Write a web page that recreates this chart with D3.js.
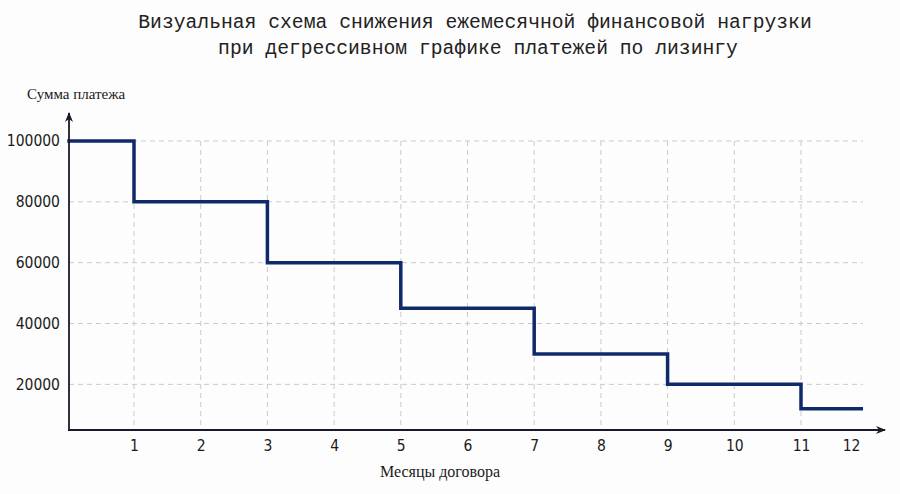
<!DOCTYPE html>
<html><head><meta charset="utf-8">
<script src="https://cdn.jsdelivr.net/npm/d3@7"></script>
<style>
body{margin:0;background:#fdfdfd;}
svg{display:block;}
</style></head>
<body>
<svg id="c" width="900" height="494"></svg>
<script>
const titleLines = ["Визуальная схема снижения ежемесячной финансовой нагрузки", "при дегрессивном графике платежей по лизингу"];
const yLabel = "Сумма платежа";
const xLabel = "Месяцы договора";
const stepStarts = [0, 1, 3, 5, 7, 9, 11];
const stepEnds = [1, 3, 5, 7, 9, 11, 11.93];
const payments = [100000, 80000, 60000, 45000, 30000, 20000, 12000];
const xTickLabels = ["1","2","3","4","5","6","7","8","9","10","11","12"];
const xTickPositions = [1,2,3,4,5,6,7,8,9,10,11,11.75];
const xGridMonths = [1,2,3,4,5,6,7,8,9,10,11];
const yTicks = [20000, 40000, 60000, 80000, 100000];

const svg = d3.select("#c");
const x = d3.scaleLinear().domain([0, 12]).range([67.3, 867.7]);
const y = d3.scaleLinear().domain([5000, 100000]).range([430, 141]);
const xEnd = x(11.93);

// grid
const g = svg.append("g");
g.selectAll("line.v").data(xGridMonths).enter().append("line")
  .attr("x1", d=>x(d)).attr("x2", d=>x(d)).attr("y1", y(100000)).attr("y2", 430)
  .attr("stroke", "#cacaca").attr("stroke-width", 1).attr("stroke-dasharray", "5,4");
g.selectAll("line.h").data(yTicks).enter().append("line")
  .attr("x1", 69).attr("x2", xEnd).attr("y1", d=>y(d)).attr("y2", d=>y(d))
  .attr("stroke", "#cacaca").attr("stroke-width", 1).attr("stroke-dasharray", "5,4");

// step line
const pts = [];
payments.forEach((p,i)=>{ pts.push([stepStarts[i], p]); pts.push([stepEnds[i], p]); });
const line = d3.line().x(d=>x(d[0])).y(d=>y(d[1]));
svg.append("path").datum(pts).attr("d", line).attr("fill","none")
  .attr("stroke","#0f2a6b").attr("stroke-width",3.5).attr("stroke-linejoin","miter");

// axes
const defs = svg.append("defs");
defs.append("marker").attr("id","arr").attr("viewBox","0 0 10 10").attr("refX",9).attr("refY",5)
  .attr("markerWidth",10).attr("markerHeight",10).attr("markerUnits","userSpaceOnUse").attr("orient","auto")
  .append("path").attr("d","M0,1 L10,5 L0,9 L3,5 Z").attr("fill","#1a1a2a");
svg.append("line").attr("x1",68).attr("y1",430).attr("x2",885).attr("y2",430)
  .attr("stroke","#1a1a2a").attr("stroke-width",1.8).attr("marker-end","url(#arr)");
svg.append("line").attr("x1",69).attr("y1",430).attr("x2",69).attr("y2",113)
  .attr("stroke","#1a1a2a").attr("stroke-width",1.8).attr("marker-end","url(#arr)");

const tickFont = "'DejaVu Sans Condensed', 'DejaVu Sans', sans-serif";
const xAxis = d3.axisBottom(x).tickValues(xTickPositions).tickSize(0).tickPadding(10)
  .tickFormat((d,i)=>xTickLabels[i]);
const xa = svg.append("g").attr("transform","translate(0,430)").call(xAxis);
xa.select(".domain").remove();
xa.selectAll("text").attr("font-family", tickFont).attr("font-size", 15.5).attr("fill","#1a1a1a").attr("font-stretch","condensed");

const yAxis = d3.axisLeft(y).tickValues(yTicks).tickSize(0).tickPadding(9).tickFormat(d3.format("d"));
const ya = svg.append("g").attr("transform","translate(69,0)").call(yAxis);
ya.select(".domain").remove();
ya.selectAll("text").attr("font-family", tickFont).attr("font-size", 15.5).attr("fill","#1a1a1a").attr("font-stretch","condensed");

// labels
svg.append("text").attr("x", 27).attr("y", 99).text(yLabel)
  .attr("font-family","'Liberation Serif', 'DejaVu Serif', serif").attr("font-size",15).attr("fill","#1a1a1a");
svg.append("text").attr("x", 440).attr("y", 477).attr("text-anchor","middle").text(xLabel)
  .attr("font-family","'Liberation Serif', 'DejaVu Serif', serif").attr("font-size",16).attr("fill","#1a1a1a");

// title
svg.selectAll("text.title").data(titleLines).enter().append("text")
  .attr("x", (d,i)=> i===0 ? 475 : 478).attr("y", (d,i)=>28 + i*26).attr("text-anchor","middle").text(d=>d)
  .attr("font-family","'Liberation Mono', 'DejaVu Sans Mono', monospace").attr("font-size",19.7).attr("fill","#222");
</script>
</body></html>
